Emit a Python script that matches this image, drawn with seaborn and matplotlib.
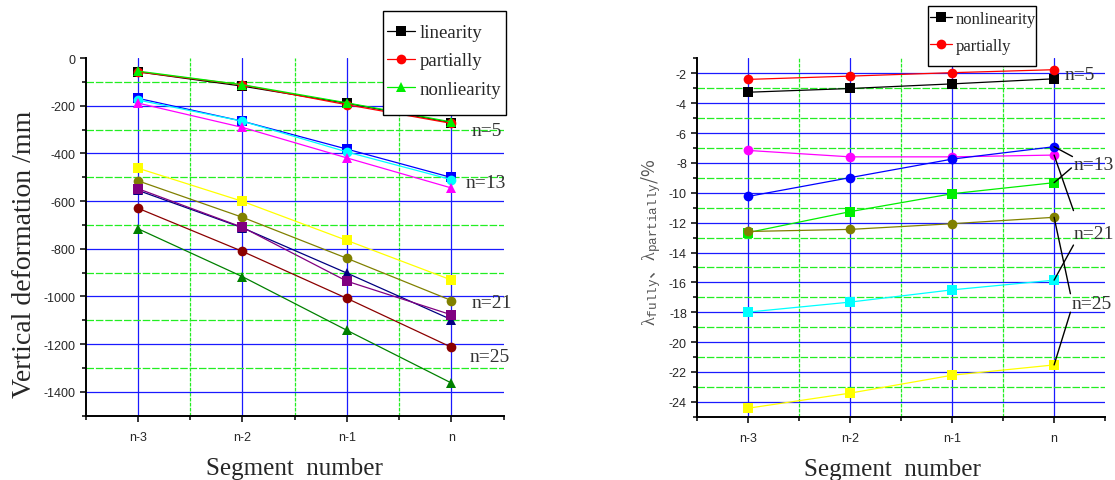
import matplotlib
matplotlib.use("Agg")
import matplotlib.pyplot as plt
import pandas as pd
import seaborn as sns
from matplotlib.lines import Line2D
from matplotlib.patches import Rectangle
from matplotlib.ticker import MultipleLocator

segments = ["n-3", "n-2", "n-1", "n"]

# left panel: vertical deformation (mm)
dfm_n5_linearity = [-58, -118, -190, -271]
dfm_n5_partially = [-58, -113, -196, -274]
dfm_n5_nonlinearity = [-55, -112, -188, -268]
dfm_n13_linearity = [-169, -265, -382, -501]
dfm_n13_partially = [-176, -265, -394, -510]
dfm_n13_nonlinearity = [-189, -291, -419, -545]
dfm_n21_linearity = [-462, -601, -765, -931]
dfm_n21_partially = [-515, -668, -840, -1017]
dfm_n21_nonlinearity = [-555, -712, -902, -1097]
dfm_n25_linearity = [-548, -710, -936, -1077]
dfm_n25_partially = [-630, -811, -1008, -1213]
dfm_n25_nonlinearity = [-716, -917, -1142, -1363]

# right panel: lambda ratios (%)
lam_n5_nonlinearity = [-3.26, -3.01, -2.70, -2.36]
lam_n5_partially = [-2.40, -2.18, -1.95, -1.75]
lam_n13_partially = [-7.16, -7.59, -7.59, -7.47]
lam_n13_nonlinearity = [-10.24, -8.98, -7.74, -6.91]
lam_n21_nonlinearity = [-12.66, -11.26, -10.06, -9.32]
lam_n21_partially = [-12.59, -12.45, -12.07, -11.64]
lam_n25_partially = [-17.99, -17.32, -16.50, -15.85]
lam_n25_nonlinearity = [-24.43, -23.42, -22.22, -21.53]

left_series = [
    ("n5 linearity", dfm_n5_linearity, "black", "s"),
    ("n5 partially", dfm_n5_partially, "red", "o"),
    ("n5 nonlinearity", dfm_n5_nonlinearity, "#00ee00", "^"),
    ("n13 linearity", dfm_n13_linearity, "blue", "s"),
    ("n13 partially", dfm_n13_partially, "cyan", "o"),
    ("n13 nonlinearity", dfm_n13_nonlinearity, "magenta", "^"),
    ("n21 linearity", dfm_n21_linearity, "yellow", "s"),
    ("n21 partially", dfm_n21_partially, "#808000", "o"),
    ("n21 nonlinearity", dfm_n21_nonlinearity, "navy", "^"),
    ("n25 linearity", dfm_n25_linearity, "purple", "s"),
    ("n25 partially", dfm_n25_partially, "#8b0000", "o"),
    ("n25 nonlinearity", dfm_n25_nonlinearity, "green", "^"),
]
right_series = [
    ("n5 nonlinearity", lam_n5_nonlinearity, "black", "s"),
    ("n5 partially", lam_n5_partially, "red", "o"),
    ("n13 partially", lam_n13_partially, "magenta", "o"),
    ("n13 nonlinearity", lam_n13_nonlinearity, "blue", "o"),
    ("n21 nonlinearity", lam_n21_nonlinearity, "#00ee00", "s"),
    ("n21 partially", lam_n21_partially, "#808000", "o"),
    ("n25 partially", lam_n25_partially, "cyan", "s"),
    ("n25 nonlinearity", lam_n25_nonlinearity, "yellow", "s"),
]

# text labels and leader lines (right panel: series name -> text end point)
left_tags = [("n=5", 3.19, -305), ("n=13", 3.14, -521), ("n=21", 3.19, -1026), ("n=25", 3.17, -1250)]
right_tags = [("n=5", 3.10, -2.09), ("n=13", 3.19, -8.11), ("n=21", 3.19, -12.71), ("n=25", 3.17, -17.43)]
right_leaders = [
    ("n13 nonlinearity", 3.18, -7.57),
    ("n21 nonlinearity", 3.17, -8.33),
    ("n13 partially", 3.19, -11.19),
    ("n21 partially", 3.16, -16.76),
    ("n25 partially", 3.19, -13.50),
    ("n25 nonlinearity", 3.16, -18.00),
]

sns.set_style("ticks")
plt.rcParams["font.family"] = ["Liberation Sans", "DejaVu Sans"]
plt.rcParams["axes.unicode_minus"] = False
plt.rcParams["mathtext.fontset"] = "custom"
plt.rcParams["mathtext.rm"] = "Liberation Serif"
plt.rcParams["mathtext.it"] = "Liberation Serif:italic"
plt.rcParams["mathtext.tt"] = "Liberation Mono"

SERIF = ["Liberation Serif", "Noto Sans CJK SC", "DejaVu Serif"]
GRID_BLUE = "#1a1aff"
GRID_GREEN = "#22ee22"
W, H = 1115, 481


def to_frame(series):
    rows = []
    for name, vals, _, _ in series:
        for i, v in enumerate(vals):
            rows.append({"pos": i, "value": v, "series": name})
    return pd.DataFrame(rows)


def draw_panel(ax, series, ymin, ymax, major, minor):
    df = to_frame(series)
    sns.lineplot(
        data=df, x="pos", y="value", hue="series", style="series",
        palette={s[0]: s[2] for s in series},
        markers={s[0]: s[3] for s in series},
        dashes=False, errorbar=None, legend=False, sort=False,
        markersize=7, markeredgewidth=0, linewidth=0.9, ax=ax, zorder=3,
    )
    ax.set_xlim(-0.5, len(segments) - 0.5)
    ax.set_ylim(ymin, ymax)
    ax.set_xticks(range(len(segments)))
    ax.set_xticklabels(segments)
    ax.xaxis.set_minor_locator(MultipleLocator(0.5))
    ax.yaxis.set_major_locator(MultipleLocator(major))
    ax.yaxis.set_minor_locator(MultipleLocator(minor))

    # grid (skip the line on the top edge)
    for i in range(len(segments)):
        ax.axvline(i, color=GRID_BLUE, lw=0.9, zorder=1)
        if i < len(segments) - 1:
            ax.axvline(i + 0.5, color=GRID_GREEN, lw=0.9, ls=(0, (3, 1)), zorder=1)
    k = 1
    while ymax - k * minor > ymin + 1e-9:
        yv = ymax - k * minor
        if abs(yv / major - round(yv / major)) < 1e-6:
            ax.axhline(yv, color=GRID_BLUE, lw=0.9, zorder=1)
        else:
            ax.axhline(yv, color=GRID_GREEN, lw=0.9, ls=(0, (6, 1.5)), zorder=1)
        k += 1

    for side in ["top", "right"]:
        ax.spines[side].set_visible(False)
    for side in ["left", "bottom"]:
        ax.spines[side].set_linewidth(1.4)
        ax.spines[side].set_color("black")
    ax.tick_params(which="major", length=4, width=1.1, labelsize=9, color="black")
    ax.tick_params(which="minor", length=3, width=1.1, color="black")
    ax.tick_params(axis="x", which="major", pad=7)
    ax.set_xlabel("Segment  number", fontsize=18, family=SERIF, labelpad=10)


def boxed_legend(fig, handles, labels, box, anchor, size, spacing, hlen):
    x0, y0, x1, y1 = box
    fig.patches.append(Rectangle((x0 / W, 1 - y1 / H), (x1 - x0) / W, (y1 - y0) / H,
                                 transform=fig.transFigure, facecolor="white",
                                 edgecolor="black", lw=1.0, zorder=4))
    leg = fig.legend(handles, labels, loc="upper left",
                     bbox_to_anchor=(anchor[0] / W, 1 - anchor[1] / H),
                     bbox_transform=fig.transFigure, prop={"family": SERIF, "size": size},
                     frameon=False, handlelength=hlen, handletextpad=0.25,
                     borderpad=0, borderaxespad=0, labelspacing=spacing)
    leg.set_zorder(5)
    return leg


fig = plt.figure(figsize=(11.15, 4.81), dpi=100)
ax1 = fig.add_axes([0.0769, 0.1337, 0.3748, 0.7436])
ax2 = fig.add_axes([0.6254, 0.1316, 0.3657, 0.7447])

draw_panel(ax1, left_series, -1500, 0, 200, 100)
ax1.set_ylabel("Vertical deformation /mm", fontsize=20, family=SERIF)
ax1.yaxis.set_label_coords(-0.117, 0.455)
for txt, x, y in left_tags:
    ax1.text(x, y, txt, fontsize=14, family=SERIF, ha="left", va="center",
             color="#333333", zorder=6, clip_on=False)

draw_panel(ax2, right_series, -25, -1, 2, 1)
ax2.set_ylabel(r"$\mathrm{\lambda}_{\mathtt{fully}}$、$\mathrm{\lambda}_{\mathtt{partially}}$/%",
               fontsize=13, family=["Noto Sans CJK SC", "DejaVu Sans"], color="#555555")
ax2.yaxis.set_label_coords(-0.085, 0.49)
ax2.xaxis.label.set_x(0.478)
for txt, x, y in right_tags:
    ax2.text(x, y, txt, fontsize=14, family=SERIF, ha="left", va="center",
             color="#333333", zorder=6, clip_on=False)
right_lookup = {name: vals for name, vals, _, _ in right_series}
for name, tx, ty in right_leaders:
    ax2.annotate("", xy=(len(segments) - 1, right_lookup[name][-1]), xytext=(tx, ty),
                 arrowprops=dict(arrowstyle="-", color="black", lw=1.0,
                                 shrinkA=0, shrinkB=0), zorder=5, annotation_clip=False)

boxed_legend(
    fig,
    [Line2D([], [], color=c, marker=m, markersize=7, markeredgewidth=0, lw=0.9)
     for _, _, c, m in left_series[:3]],
    ["linearity", "partially", "nonliearity"],
    box=(383, 11.7, 506, 116), anchor=(387, 25), size=13.5, spacing=0.6, hlen=1.5,
)
boxed_legend(
    fig,
    [Line2D([], [], color=c, marker=m, markersize=7, markeredgewidth=0, lw=0.9)
     for _, _, c, m in right_series[:2]],
    ["nonlinearity", "partially"],
    box=(928, 7.3, 1036, 66.7), anchor=(930, 12), size=12, spacing=0.65, hlen=1.3,
)

plt.savefig("out.png", dpi=100)
